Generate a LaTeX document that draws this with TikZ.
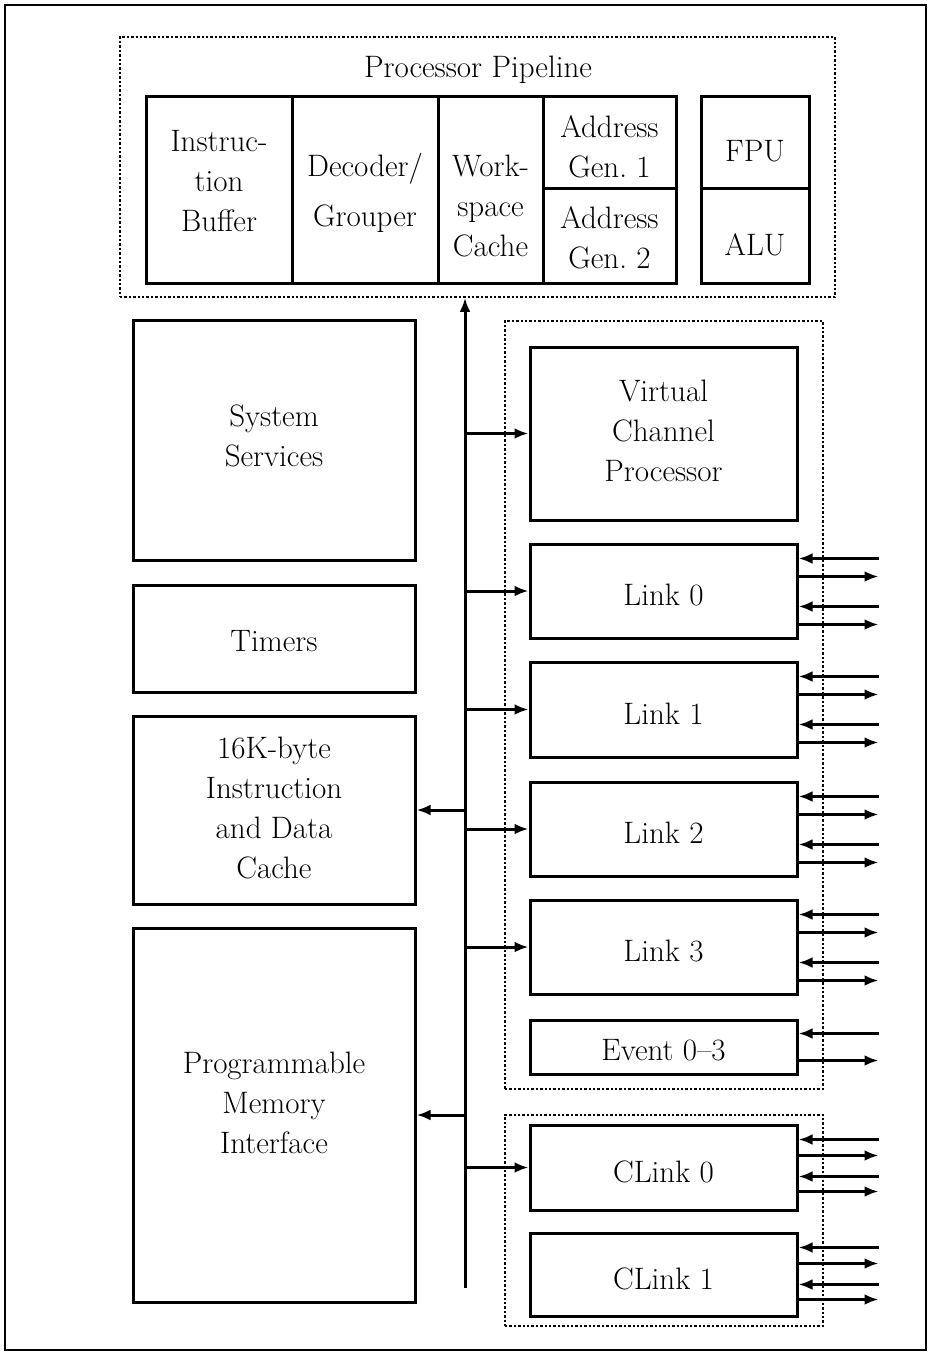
\documentclass[tikz,border=0pt]{standalone}
\usetikzlibrary{arrows.meta,calc,fit}
\begin{document}
\begin{tikzpicture}[x=0.5pt,y=-0.5pt,
  every node/.style={font=\fontsize{15.5}{20}\selectfont},
  box/.style={draw, line width=1.5pt, inner sep=0pt},
  txt/.style={align=center, inner sep=0pt},
  grp/.style={draw, line width=0.8pt, dash pattern=on 1.2pt off 1pt, inner sep=0pt},
  conn/.style={line width=1.5pt, -{Latex[length=7pt,width=5.4pt]}},
  ]
\useasboundingbox (0,0) rectangle (931,1355);
\node[draw, line width=1.3pt, inner sep=0pt, fit={(5,5)(926,1350)}] (frame) {};
% pipeline
\node[grp, fit={(120,37)(835,297)}] (pipe) {};
\node[txt] (ptitle) at (478,70) {Processor Pipeline};
\node[box, fit={(146,96)(292,283)}] (ib) {};
\node[box, fit={(292,96)(438,283)}] (dg) {};
\node[box, fit={(438,96)(543,283)}] (ws) {};
\node[box, fit={(543,96)(676,188)}] (ag1) {};
\node[box, fit={(543,188)(676,283)}] (ag2) {};
\node[box, fit={(701,96)(809,188)}] (fpu) {};
\node[box, fit={(701,188)(809,283)}] (alu) {};
\node[txt] at ($(ib.center)+(0,-8)$) {Instruc-\\tion\\Buffer};
\node[txt] at ($(dg.center)+(0,3)$) {Decoder/\\[5pt]Grouper};
\node[txt] at ($(ws.center)+(0,16)$) {Work-\\space\\Cache};
\node[txt] at ($(ag1.center)+(0,5)$) {Address\\Gen.~1};
\node[txt] at ($(ag2.center)+(0,2)$) {Address\\Gen.~2};
\node[txt] at ($(fpu.center)+(0,9)$) {FPU};
\node[txt] at ($(alu.center)+(0,9)$) {ALU};
% left column
\node[box, fit={(133,320)(415,560)}] (ss) {};
\node[box, fit={(133,585)(415,692)}] (tm) {};
\node[box, fit={(133,716)(415,904)}] (ca) {};
\node[box, fit={(133,928)(415,1302)}] (pmi) {};
\node[txt] at ($(ss.center)+(0,-4)$) {System\\Services};
\node[txt] at ($(tm.center)+(0,3)$) {Timers};
\node[txt] at ($(ca.center)+(0,-2)$) {16K-byte\\Instruction\\and Data\\Cache};
\node[txt] at ($(pmi.center)+(0,-12)$) {Programmable\\Memory\\Interface};
% right groups
\node[grp, fit={(505,321)(823,1089)}] (g1) {};
\node[box, fit={(530,347)(797,520)}] (vcp) {};
\node[box, fit={(530,544)(797,638)}] (l0) {};
\node[box, fit={(530,662)(797,757)}] (l1) {};
\node[box, fit={(530,782)(797,876)}] (l2) {};
\node[box, fit={(530,900)(797,994)}] (l3) {};
\node[box, fit={(530,1020)(797,1074)}] (ev) {};
\node[grp, fit={(505,1115)(823,1326)}] (g2) {};
\node[box, fit={(530,1125)(797,1210)}] (c0) {};
\node[box, fit={(530,1233)(797,1316)}] (c1) {};
\node[txt] at ($(vcp.center)+(0,-3)$) {Virtual\\Channel\\Processor};
\node[txt] at ($(l0.center)+(0,4)$) {Link 0};
\node[txt] at ($(l1.center)+(0,4)$) {Link 1};
\node[txt] at ($(l2.center)+(0,4)$) {Link 2};
\node[txt] at ($(l3.center)+(0,4)$) {Link 3};
\node[txt] at ($(ev.center)+(0,3)$) {Event 0--3};
\node[txt] at ($(c0.center)+(0,4)$) {CLink 0};
\node[txt] at ($(c1.center)+(0,4)$) {CLink 1};
% bus
\coordinate (busend) at (465,1288);
\draw[conn] (busend) -- (busend |- pipe.south);
\foreach \n in {vcp,l0,l1,l2,l3,c0} \draw[conn] (busend |- \n.west) -- (\n.west);
\foreach \n in {ca,pmi} \draw[conn] (busend |- \n.east) -- (\n.east);
% external links
\foreach \n in {l0,l1,l2,l3} {
  \draw[conn] ($(\n.north east)+(80,16)$) -- ($(\n.north east)+(0,16)$);
  \draw[conn] ($(\n.north east)+(0,34)$) -- ($(\n.north east)+(80,34)$);
  \draw[conn] ($(\n.north east)+(80,64)$) -- ($(\n.north east)+(0,64)$);
  \draw[conn] ($(\n.north east)+(0,82)$) -- ($(\n.north east)+(80,82)$);
}
\draw[conn] ($(ev.north east)+(80,15)$) -- ($(ev.north east)+(0,15)$);
\draw[conn] ($(ev.north east)+(0,42)$) -- ($(ev.north east)+(80,42)$);
\foreach \n in {c0,c1} {
  \draw[conn] ($(\n.north east)+(80,16)$) -- ($(\n.north east)+(0,16)$);
  \draw[conn] ($(\n.north east)+(0,32)$) -- ($(\n.north east)+(80,32)$);
  \draw[conn] ($(\n.north east)+(80,53)$) -- ($(\n.north east)+(0,53)$);
  \draw[conn] ($(\n.north east)+(0,68)$) -- ($(\n.north east)+(80,68)$);
}
\end{tikzpicture}
\end{document}
